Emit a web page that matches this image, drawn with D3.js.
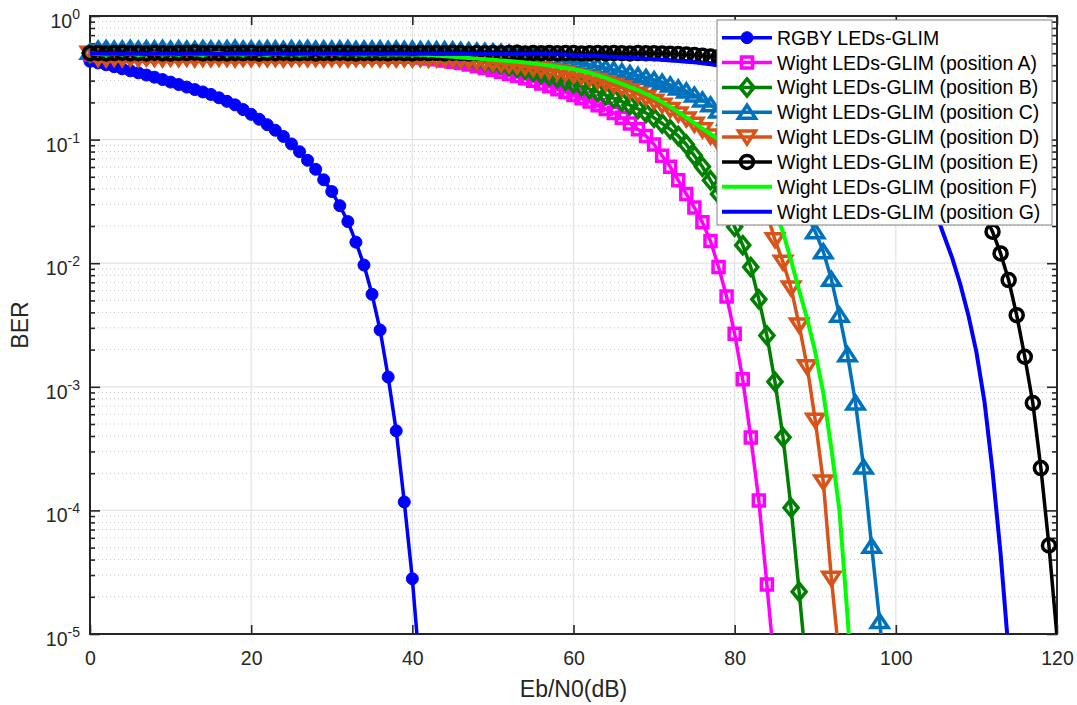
<!DOCTYPE html>
<html>
<head>
<meta charset="utf-8">
<script src="https://cdn.jsdelivr.net/npm/d3@7"></script>
<style>
  body { margin: 0; background: #fff; }
  svg { display: block; font-family: "Liberation Sans", Arial, sans-serif; }
</style>
</head>
<body>
<svg id="chart" width="1077" height="705"></svg>
<script>
// Eb/N0 grid (dB), one sample per dB
const ebn0 = d3.range(0, 121);

const xTicks = [0, 20, 40, 60, 80, 100, 120];
const yTicks = [1, 1e-1, 1e-2, 1e-3, 1e-4, 1e-5];

// BER, index = Eb/N0 in dB
const berRGBY = [
  0.43, 0.417, 0.403, 0.389, 0.374, 0.36, 0.347, 0.333, 0.32, 0.306,
  0.292, 0.279, 0.266, 0.254, 0.243, 0.232, 0.218, 0.204, 0.191, 0.175,
  0.16, 0.146, 0.132, 0.119, 0.106, 0.0923, 0.0798, 0.068, 0.0575, 0.0473,
  0.038, 0.0292, 0.0217, 0.0148, 0.00966, 0.0056, 0.00288, 0.0012, 0.00044, 0.000117,
  0.000028, 0.0000045
];

const berA = [
  0.49, 0.481, 0.476, 0.483, 0.478, 0.474, 0.48, 0.477, 0.482, 0.475,
  0.479, 0.476, 0.481, 0.474, 0.478, 0.48, 0.475, 0.477, 0.473, 0.479,
  0.476, 0.474, 0.478, 0.475, 0.472, 0.477, 0.474, 0.476, 0.473, 0.475,
  0.474, 0.472, 0.475, 0.471, 0.473, 0.472, 0.47, 0.471, 0.469, 0.47,
  0.468, 0.461, 0.454, 0.446, 0.437, 0.427, 0.416, 0.405, 0.393, 0.38,
  0.367, 0.354, 0.34, 0.327, 0.313, 0.299, 0.284, 0.27, 0.256, 0.243,
  0.229, 0.216, 0.203, 0.19, 0.177, 0.164, 0.15, 0.135, 0.121, 0.107,
  0.0912, 0.0741, 0.0603, 0.0468, 0.0363, 0.0282, 0.0214, 0.0151, 0.00933, 0.00537,
  0.00269, 0.00115, 0.000389, 0.00012, 0.0000251, 0.000005
];

const berB = [
  0.5, 0.479, 0.483, 0.477, 0.481, 0.476, 0.48, 0.474, 0.478, 0.482,
  0.477, 0.475, 0.479, 0.476, 0.481, 0.474, 0.478, 0.476, 0.48, 0.475,
  0.477, 0.479, 0.474, 0.476, 0.478, 0.473, 0.477, 0.475, 0.476, 0.474,
  0.477, 0.473, 0.475, 0.474, 0.476, 0.472, 0.474, 0.473, 0.471, 0.473,
  0.471, 0.472, 0.47, 0.469, 0.468, 0.461, 0.454, 0.446, 0.437, 0.427,
  0.416, 0.405, 0.393, 0.38, 0.367, 0.354, 0.34, 0.327, 0.313, 0.299,
  0.284, 0.27, 0.256, 0.243, 0.229, 0.216, 0.203, 0.19, 0.177, 0.164,
  0.15, 0.135, 0.121, 0.107, 0.0912, 0.0741, 0.0603, 0.0468, 0.0363, 0.0282,
  0.0197, 0.014, 0.0093, 0.0051, 0.0026, 0.0011, 0.00039, 0.000105, 0.000022, 0.0000045
];

const berC = [
  0.51, 0.54, 0.545, 0.538, 0.542, 0.547, 0.539, 0.543, 0.541, 0.546,
  0.538, 0.544, 0.54, 0.537, 0.545, 0.541, 0.539, 0.543, 0.548, 0.54,
  0.542, 0.538, 0.544, 0.541, 0.537, 0.543, 0.54, 0.546, 0.539, 0.542,
  0.538, 0.541, 0.544, 0.537, 0.54, 0.539, 0.542, 0.536, 0.539, 0.537,
  0.538, 0.535, 0.537, 0.534, 0.533, 0.531, 0.527, 0.524, 0.52, 0.516,
  0.513, 0.507, 0.501, 0.494, 0.486, 0.479, 0.469, 0.459, 0.449, 0.438,
  0.427, 0.415, 0.403, 0.391, 0.379, 0.367, 0.355, 0.343, 0.33, 0.318,
  0.305, 0.291, 0.277, 0.262, 0.247, 0.229, 0.209, 0.191, 0.17, 0.148,
  0.132, 0.115, 0.1, 0.0871, 0.0741, 0.0617, 0.0513, 0.0417, 0.0324, 0.0245,
  0.018, 0.0124, 0.0074, 0.0038, 0.00182, 0.00074, 0.000224, 0.0000513, 0.0000126, 0.0000025
];

const berD = [
  0.5, 0.455, 0.451, 0.457, 0.453, 0.456, 0.452, 0.458, 0.454, 0.45,
  0.456, 0.453, 0.457, 0.451, 0.455, 0.452, 0.456, 0.454, 0.45, 0.455,
  0.453, 0.457, 0.452, 0.455, 0.451, 0.454, 0.456, 0.452, 0.454, 0.451,
  0.455, 0.453, 0.45, 0.454, 0.452, 0.455, 0.451, 0.453, 0.45, 0.452,
  0.451, 0.453, 0.449, 0.45, 0.448, 0.447, 0.442, 0.437, 0.431, 0.425,
  0.418, 0.411, 0.404, 0.396, 0.388, 0.38, 0.372, 0.362, 0.353, 0.344,
  0.333, 0.323, 0.312, 0.301, 0.288, 0.275, 0.262, 0.248, 0.233, 0.219,
  0.204, 0.19, 0.175, 0.161, 0.147, 0.133, 0.12, 0.107, 0.094, 0.0817,
  0.07, 0.0589, 0.0484, 0.038, 0.0251, 0.0155, 0.0102, 0.0063, 0.00316, 0.00145,
  0.000537, 0.00017, 0.0000282, 0.0000063
];

const berE = [
  0.5, 0.503, 0.498, 0.501, 0.505, 0.499, 0.502, 0.497, 0.504, 0.5,
  0.498, 0.503, 0.501, 0.506, 0.499, 0.502, 0.5, 0.497, 0.503, 0.501,
  0.504, 0.498, 0.502, 0.5, 0.505, 0.499, 0.501, 0.503, 0.498, 0.502,
  0.5, 0.504, 0.501, 0.497, 0.503, 0.5, 0.502, 0.499, 0.504, 0.501,
  0.498, 0.503, 0.5, 0.502, 0.499, 0.505, 0.501, 0.498, 0.502, 0.5,
  0.503, 0.499, 0.501, 0.504, 0.498, 0.502, 0.5, 0.503, 0.499, 0.501,
  0.502, 0.498, 0.5, 0.503, 0.499, 0.501, 0.5, 0.498, 0.501, 0.499,
  0.5, 0.498, 0.495, 0.492, 0.488, 0.483, 0.477, 0.47, 0.463, 0.456,
  0.449, 0.438, 0.427, 0.415, 0.403, 0.391, 0.379, 0.367, 0.355, 0.343,
  0.33, 0.318, 0.305, 0.291, 0.277, 0.262, 0.247, 0.229, 0.209, 0.191,
  0.17, 0.148, 0.132, 0.115, 0.1, 0.0871, 0.0741, 0.0617, 0.0513, 0.0417,
  0.0324, 0.0245, 0.018, 0.012, 0.0073, 0.0038, 0.00175, 0.00074, 0.00022, 0.000052,
  0.0000095
];

const berF = [
  0.5, 0.492, 0.486, 0.495, 0.489, 0.497, 0.484, 0.491, 0.498, 0.487,
  0.493, 0.485, 0.496, 0.49, 0.483, 0.494, 0.499, 0.488, 0.492, 0.486,
  0.495, 0.49, 0.484, 0.497, 0.489, 0.493, 0.486, 0.491, 0.496, 0.488,
  0.494, 0.487, 0.492, 0.49, 0.485, 0.493, 0.489, 0.491, 0.487, 0.49,
  0.489, 0.486, 0.483, 0.479, 0.473, 0.468, 0.462, 0.457, 0.452, 0.447,
  0.442, 0.437, 0.432, 0.427, 0.42, 0.412, 0.406, 0.398, 0.389, 0.38,
  0.372, 0.359, 0.347, 0.331, 0.316, 0.299, 0.282, 0.266, 0.251, 0.234,
  0.219, 0.201, 0.184, 0.167, 0.151, 0.136, 0.123, 0.111, 0.1, 0.0871,
  0.0759, 0.0646, 0.055, 0.0457, 0.0355, 0.0269, 0.0178, 0.0105, 0.00603, 0.00355,
  0.00191, 0.000891, 0.000316, 0.0001, 0.0000141, 0.0000016
];

const berG = [
  0.5, 0.497, 0.494, 0.496, 0.493, 0.498, 0.495, 0.492, 0.496, 0.494,
  0.497, 0.493, 0.495, 0.498, 0.494, 0.496, 0.492, 0.495, 0.497, 0.494,
  0.496, 0.493, 0.495, 0.497, 0.494, 0.492, 0.496, 0.495, 0.493, 0.497,
  0.494, 0.496, 0.493, 0.495, 0.494, 0.497, 0.492, 0.495, 0.494, 0.496,
  0.493, 0.495, 0.494, 0.492, 0.495, 0.493, 0.494, 0.496, 0.492, 0.494,
  0.493, 0.495, 0.492, 0.494, 0.493, 0.494, 0.494, 0.493, 0.491, 0.489,
  0.484, 0.481, 0.478, 0.474, 0.471, 0.468, 0.463, 0.459, 0.455, 0.451,
  0.447, 0.442, 0.437, 0.432, 0.427, 0.422, 0.415, 0.407, 0.398, 0.389,
  0.38, 0.367, 0.355, 0.343, 0.33, 0.316, 0.302, 0.286, 0.271, 0.255,
  0.24, 0.224, 0.209, 0.193, 0.176, 0.158, 0.141, 0.126, 0.112, 0.0977,
  0.0851, 0.0716, 0.0589, 0.0468, 0.0355, 0.0251, 0.0166, 0.011, 0.00676, 0.0038,
  0.00191, 0.000759, 0.000209, 0.0000447, 0.0000071
];

const seriesNames = [
  "RGBY LEDs-GLIM",
  "Wight LEDs-GLIM (position A)",
  "Wight LEDs-GLIM (position B)",
  "Wight LEDs-GLIM (position C)",
  "Wight LEDs-GLIM (position D)",
  "Wight LEDs-GLIM (position E)",
  "Wight LEDs-GLIM (position F)",
  "Wight LEDs-GLIM (position G)"
];

// marker outlines, centred on the point
const markerPaths = {
  dot: "M-6,0A6,6 0 1,0 6,0A6,6 0 1,0 -6,0Z",
  square: "M-5.5,-5.5L5.5,-5.5L5.5,5.5L-5.5,5.5Z",
  diamond: "M0,-8.5L7,0L0,8.5L-7,0Z",
  up: "M0,-7L8.5,6L-8.5,6Z",
  down: "M0,7L8.5,-6L-8.5,-6Z",
  circle: "M-6.5,0A6.5,6.5 0 1,0 6.5,0A6.5,6.5 0 1,0 -6.5,0Z"
};

const series = [
  {name: seriesNames[0], values: berRGBY, color: "#0000FF", marker: "dot", filled: true},
  {name: seriesNames[1], values: berA, color: "#FF00FF", marker: "square"},
  {name: seriesNames[2], values: berB, color: "#008000", marker: "diamond"},
  {name: seriesNames[3], values: berC, color: "#0072BD", marker: "up"},
  {name: seriesNames[4], values: berD, color: "#D95319", marker: "down"},
  {name: seriesNames[5], values: berE, color: "#000000", marker: "circle"},
  {name: seriesNames[6], values: berF, color: "#00FF00", marker: null},
  {name: seriesNames[7], values: berG, color: "#0000FF", marker: null}
];

const svg = d3.select("#chart");
const plot = {left: 90, right: 1057, top: 16, bottom: 634};

const x = d3.scaleLinear().domain([0, 120]).range([plot.left, plot.right]);
const y = d3.scaleLog().domain([1e-5, 1]).range([plot.bottom, plot.top]);

svg.append("rect").attr("width", 1077).attr("height", 705).attr("fill", "#fff");
svg.append("rect")
   .attr("x", plot.left).attr("y", plot.top)
   .attr("width", plot.right - plot.left).attr("height", plot.bottom - plot.top)
   .attr("fill", "#fff");

// grid: minor dotted, major solid
const minorY = y.ticks().filter(d => !yTicks.some(t => Math.abs(t - d) / t < 1e-6));
const grid = svg.append("g");
grid.selectAll(".minor").data(minorY).join("line")
    .attr("x1", plot.left).attr("x2", plot.right)
    .attr("y1", d => y(d)).attr("y2", d => y(d))
    .attr("stroke", "#c4c4c4").attr("stroke-width", 1)
    .attr("stroke-dasharray", "1,3");
grid.selectAll(".majorY").data(yTicks.slice(1, -1)).join("line")
    .attr("x1", plot.left).attr("x2", plot.right)
    .attr("y1", d => y(d)).attr("y2", d => y(d))
    .attr("stroke", "#e3e3e3").attr("stroke-width", 1.2);
grid.selectAll(".majorX").data(xTicks.slice(1, -1)).join("line")
    .attr("y1", plot.top).attr("y2", plot.bottom)
    .attr("x1", d => x(d)).attr("x2", d => x(d))
    .attr("stroke", "#e3e3e3").attr("stroke-width", 1.2);

// axes: inward ticks on all four sides
const axes = svg.append("g").attr("color", "#262626");
axes.append("g").attr("transform", `translate(0,${plot.bottom})`)
    .call(d3.axisBottom(x).tickValues(xTicks).tickSize(-9).tickPadding(17).tickFormat(d3.format("d")));
axes.append("g").attr("transform", `translate(0,${plot.top})`)
    .call(d3.axisTop(x).tickValues(xTicks).tickSize(-9).tickFormat(""));
axes.append("g").attr("transform", `translate(${plot.left},0)`)
    .call(d3.axisLeft(y).tickValues(yTicks).tickSize(-10).tickFormat(""));
axes.append("g").attr("transform", `translate(${plot.left},0)`)
    .call(d3.axisLeft(y).tickValues(minorY).tickSize(-5).tickFormat(""));
axes.append("g").attr("transform", `translate(${plot.right},0)`)
    .call(d3.axisRight(y).tickValues(yTicks).tickSize(-10).tickFormat(""));
axes.append("g").attr("transform", `translate(${plot.right},0)`)
    .call(d3.axisRight(y).tickValues(minorY).tickSize(-5).tickFormat(""));
axes.selectAll(".domain").remove();
axes.selectAll(".tick line").attr("stroke-width", 1.6);
axes.selectAll("text").attr("font-size", 19.5).attr("font-family", "Liberation Sans, Arial, sans-serif").attr("fill", "#262626");
axes.append("rect")
    .attr("x", plot.left).attr("y", plot.top)
    .attr("width", plot.right - plot.left).attr("height", plot.bottom - plot.top)
    .attr("fill", "none").attr("stroke", "#262626").attr("stroke-width", 2);

// y tick labels as 10^n
const yLabels = svg.append("g").attr("fill", "#262626");
const lab = yLabels.selectAll("text").data(yTicks).join("text")
    .attr("x", 80).attr("y", d => y(d) + 12)
    .attr("text-anchor", "end").attr("font-size", 19.5);
lab.append("tspan").text("10");
lab.append("tspan").attr("dy", -9).attr("font-size", 14).text(d => Math.round(Math.log10(d)));

svg.append("text")
   .attr("x", (plot.left + plot.right) / 2).attr("y", 697)
   .attr("text-anchor", "middle").attr("font-size", 23).attr("fill", "#262626")
   .text("Eb/N0(dB)");
svg.append("text")
   .attr("transform", `translate(28,${(plot.top + plot.bottom) / 2}) rotate(-90)`)
   .attr("text-anchor", "middle").attr("font-size", 23).attr("fill", "#262626")
   .text("BER");

// curves
svg.append("clipPath").attr("id", "clip")
   .append("rect")
   .attr("x", plot.left).attr("y", plot.top)
   .attr("width", plot.right - plot.left).attr("height", plot.bottom - plot.top);

const line = d3.line()
    .x((d, i) => x(ebn0[i]))
    .y(d => y(d));

const curves = svg.append("g");
series.forEach(s => {
  const g = curves.append("g");
  g.append("path")
   .attr("clip-path", "url(#clip)")
   .attr("d", line(s.values))
   .attr("fill", "none")
   .attr("stroke", s.color)
   .attr("stroke-width", s.marker ? 3.5 : 4)
   .attr("stroke-linejoin", "round");
  if (!s.marker) return;
  const pts = s.values.map((v, i) => ({e: ebn0[i], v})).filter(p => p.v >= 1e-5);
  g.selectAll("path.m").data(pts).join("path")
   .attr("class", "m")
   .attr("transform", p => `translate(${x(p.e)},${y(p.v)})`)
   .attr("d", markerPaths[s.marker])
   .attr("fill", s.filled ? s.color : "none")
   .attr("stroke", s.color)
   .attr("stroke-width", s.filled ? 1 : 3.5)
   .attr("stroke-linejoin", "miter");
});

// legend
const legend = svg.append("g");
legend.append("rect")
      .attr("x", 717).attr("y", 20).attr("width", 335).attr("height", 205)
      .attr("fill", "#fff").attr("stroke", "#808080").attr("stroke-width", 1);
const rows = legend.selectAll("g").data(series).join("g")
      .attr("transform", (d, i) => `translate(0,${37.7 + i * 24.85})`);
rows.append("line")
    .attr("x1", 722).attr("x2", 772)
    .attr("stroke", d => d.color).attr("stroke-width", d => d.marker ? 3.5 : 4);
rows.filter(d => d.marker).append("path")
    .attr("transform", "translate(747,0)")
    .attr("d", d => markerPaths[d.marker])
    .attr("fill", d => d.filled ? d.color : "none")
    .attr("stroke", d => d.color)
    .attr("stroke-width", d => d.filled ? 1 : 3.5);
rows.append("text")
    .attr("x", 777).attr("y", 7)
    .attr("font-size", 19.5).attr("fill", "#000")
    .text(d => d.name);
</script>
</body>
</html>
